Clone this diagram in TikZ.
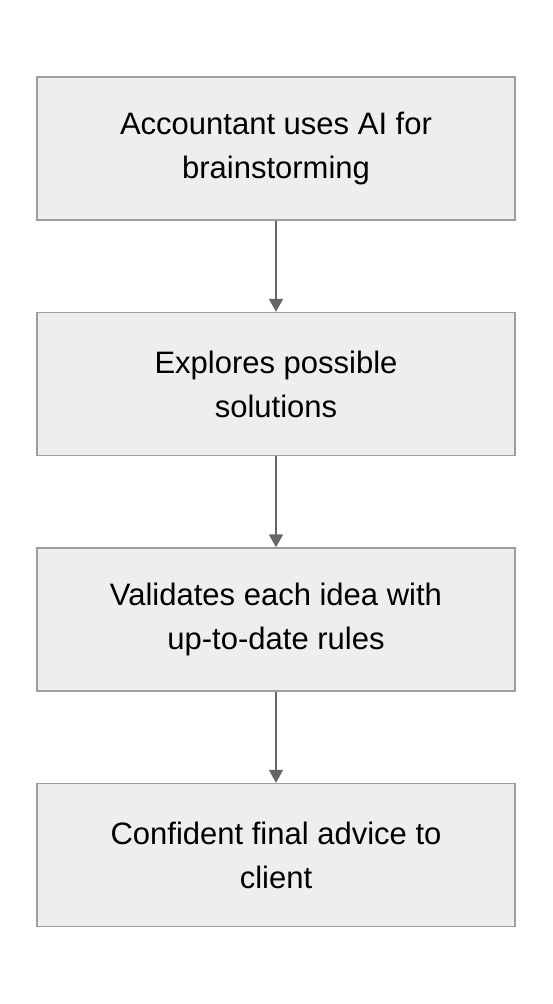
\documentclass[tikz,border=0pt]{standalone}
\usepackage{fontspec}
\setmainfont{Liberation Sans}
\usetikzlibrary{arrows.meta}
\definecolor{boxfill}{HTML}{EEEEEE}
\definecolor{boxdraw}{HTML}{9E9E9E}
\definecolor{arrowc}{HTML}{666666}
\tikzset{
  stepbox/.style={draw=boxdraw, fill=boxfill, line width=1.3pt, minimum width=478pt, minimum height=143pt, inner sep=0pt, align=center, font=\fontsize{31}{44}\selectfont, text=black},
  conn/.style={draw=arrowc, line width=1.6pt, -{Triangle[length=13pt,width=14pt]}}
}
\begin{document}
\begin{tikzpicture}[x=1pt,y=-1pt]
\useasboundingbox (0,0) rectangle (552,1004);
\node[stepbox] (a) at (276,148.5) {Accountant uses AI for\\brainstorming};
\node[stepbox] (b) at (276,384) {Explores possible\\solutions};
\node[stepbox] (c) at (276,619.5) {Validates each idea with\\up-to-date rules};
\node[stepbox] (d) at (276,855) {Confident final advice to\\client};
\draw[conn] (a) -- (b);
\draw[conn] (b) -- (c);
\draw[conn] (c) -- (d);
\end{tikzpicture}
\end{document}
